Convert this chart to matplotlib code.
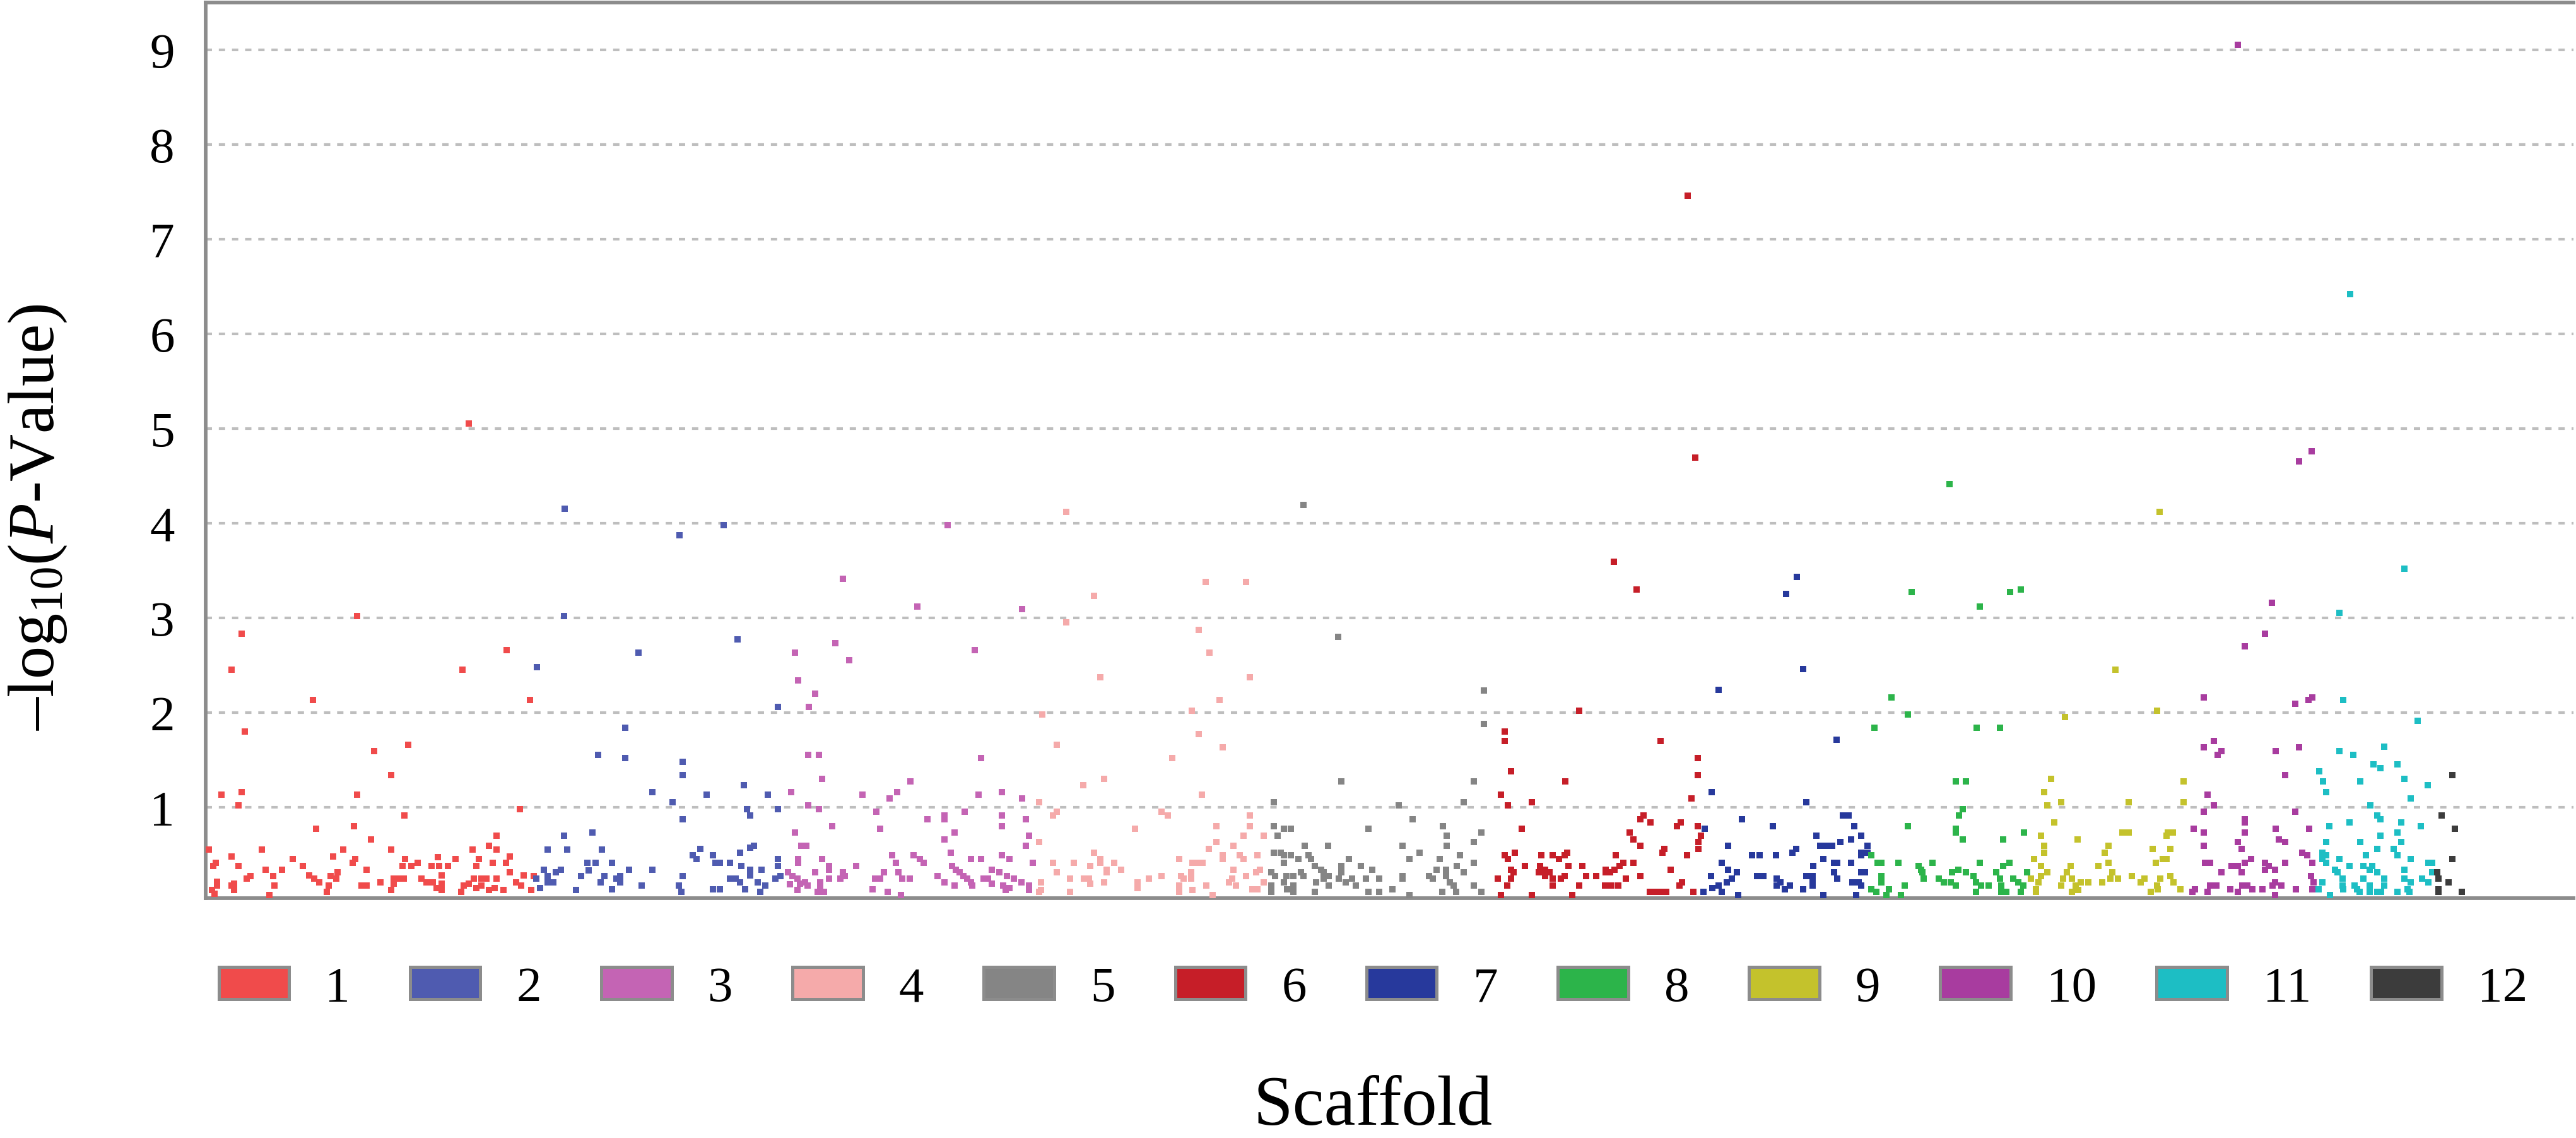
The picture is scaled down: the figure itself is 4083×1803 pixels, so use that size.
import numpy as np
import matplotlib
matplotlib.use("Agg")
import matplotlib.pyplot as plt
from matplotlib.patches import Patch

plt.rcParams['font.family'] = 'Liberation Serif'
plt.rcParams['mathtext.fontset'] = 'custom'
plt.rcParams['mathtext.rm'] = 'Liberation Serif'
plt.rcParams['mathtext.it'] = 'Liberation Serif:italic'

# position along the genome (plot units) and -log10(P) for each scaffold
scaffold_1 = [(6.48, 3.02), (1.55, 2.83), (1.10, 2.45), (10.99, 2.45), (12.87, 2.66), (4.60, 2.13), (13.89, 2.13),
              (1.69, 1.80), (7.21, 1.59), (8.66, 1.66), (7.93, 1.34), (0.67, 1.13), (1.55, 1.16), (1.40, 1.02),
              (6.48, 1.13), (13.44, 0.98), (8.52, 0.91), (4.73, 0.77), (6.34, 0.80), (7.07, 0.66), (12.44, 0.70),
              (0.14, 0.55), (2.40, 0.55), (5.90, 0.55), (7.93, 0.55), (11.42, 0.55), (12.12, 0.59), (12.44, 0.55),
              (1.10, 0.48), (5.47, 0.48), (13.02, 0.48), (11.26, 5.05),
              (0.43, 0.41), (0.32, 0.38), (1.40, 0.38), (1.92, 0.27), (1.76, 0.24), (1.23, 0.19), (1.12, 0.17),
              (1.23, 0.12), (0.48, 0.21), (0.48, 0.17), (0.27, 0.12), (0.37, 0.08), (2.56, 0.34), (2.88, 0.27),
              (2.94, 0.17), (2.72, 0.07), (3.28, 0.34), (3.74, 0.45), (4.16, 0.38), (4.43, 0.28), (4.64, 0.24),
              (4.86, 0.20), (5.34, 0.27), (5.66, 0.31), (5.60, 0.24), (5.28, 0.17), (5.18, 0.10), (6.41, 0.45),
              (6.30, 0.41), (6.89, 0.34), (6.67, 0.17), (6.89, 0.17), (7.47, 0.20), (8.06, 0.24), (8.27, 0.24),
              (8.49, 0.24), (8.06, 0.19), (7.95, 0.12), (8.43, 0.38), (8.54, 0.45), (8.81, 0.38), (9.07, 0.41),
              (9.23, 0.24), (9.45, 0.20), (9.71, 0.20), (9.93, 0.47), (9.98, 0.38), (9.66, 0.38), (10.36, 0.38),
              (10.09, 0.28), (10.09, 0.19), (10.09, 0.12), (9.88, 0.14), (10.70, 0.45), (11.05, 0.17), (10.94, 0.10),
              (11.26, 0.19), (11.48, 0.24), (11.58, 0.38), (11.69, 0.45), (11.58, 0.14), (11.80, 0.24), (11.80, 0.17),
              (12.01, 0.24), (12.12, 0.12), (12.28, 0.41), (12.44, 0.24), (12.38, 0.14), (12.76, 0.12), (12.86, 0.41),
              (13.02, 0.31), (13.29, 0.20), (13.51, 0.17), (13.61, 0.28), (13.93, 0.12), (14.04, 0.27)]

scaffold_2 = [(15.34, 3.02), (15.36, 4.15), (14.18, 2.48), (15.34, 0.70), (14.63, 0.55), (15.48, 0.55), (16.56, 0.73),
              (14.15, 0.24), (14.31, 0.14), (14.47, 0.34), (14.63, 0.27), (14.63, 0.20), (14.89, 0.20), (15.00, 0.31),
              (15.21, 0.34), (15.85, 0.12), (16.07, 0.27), (16.33, 0.41), (16.39, 0.33),
              (18.53, 2.63), (22.75, 2.77), (24.48, 2.06), (17.95, 1.84), (16.79, 1.55), (17.95, 1.52), (20.42, 1.48),
              (20.42, 1.34), (19.11, 1.16), (21.44, 1.13), (23.03, 1.23), (24.05, 1.13), (19.97, 1.05), (23.18, 0.98),
              (23.31, 0.91), (24.48, 0.98), (20.42, 0.87), (16.95, 0.55), (16.69, 0.41), (17.38, 0.41), (18.13, 0.34),
              (19.11, 0.34), (20.27, 3.87), (22.17, 3.98),
              (17.06, 0.27), (16.90, 0.20), (17.75, 0.27), (17.75, 0.20), (17.59, 0.24), (17.38, 0.13), (18.66, 0.17),
              (20.26, 0.17), (20.37, 0.10), (20.42, 0.27), (21.17, 0.56), (20.85, 0.49), (21.01, 0.45), (21.70, 0.49),
              (21.81, 0.41), (22.02, 0.41), (22.45, 0.41), (21.70, 0.13), (22.02, 0.13), (22.88, 0.52), (22.93, 0.38),
              (23.31, 0.57), (23.47, 0.59), (23.31, 0.34), (23.31, 0.28), (22.45, 0.24), (22.67, 0.24), (22.88, 0.20),
              (23.09, 0.13), (23.63, 0.20), (23.95, 0.17), (23.73, 0.10), (23.79, 0.34), (24.48, 0.45), (24.48, 0.38),
              (24.37, 0.24), (24.59, 0.27)]

scaffold_3 = [(27.26, 3.41), (30.46, 3.12), (26.96, 2.73), (25.23, 2.63), (27.55, 2.55), (32.91, 2.66), (25.36, 2.34),
              (26.08, 2.20), (25.81, 2.06), (25.78, 1.55), (26.24, 1.55), (26.38, 1.30), (33.18, 1.52), (30.16, 1.27),
              (25.07, 1.16), (28.11, 1.13), (29.58, 1.16), (29.28, 1.09), (33.07, 1.13), (25.78, 1.02), (26.24, 0.98),
              (28.70, 0.95), (32.49, 0.95), (30.89, 0.87), (31.61, 0.91), (31.61, 0.87), (26.81, 0.80), (28.86, 0.77),
              (25.23, 0.73), (32.06, 0.73), (31.61, 0.66), (25.49, 0.59), (25.71, 0.59), (31.90, 0.52), (31.76, 3.98),
              (25.36, 0.45), (25.36, 0.41), (26.38, 0.45), (26.67, 0.38), (26.67, 0.34), (26.08, 0.31), (27.84, 0.38),
              (29.39, 0.49), (29.55, 0.41), (30.30, 0.49), (30.57, 0.45), (30.73, 0.41), (32.75, 0.45), (33.18, 0.45),
              (31.95, 0.38), (32.11, 0.34), (32.27, 0.31), (32.43, 0.27), (32.59, 0.24), (32.75, 0.20), (32.81, 0.17),
              (31.31, 0.27), (31.63, 0.20), (32.06, 0.17), (29.66, 0.31), (29.82, 0.24), (30.14, 0.24), (29.02, 0.31),
              (28.86, 0.24), (28.64, 0.24), (28.54, 0.13), (29.18, 0.10), (29.76, 0.07), (27.26, 0.31), (27.15, 0.24),
              (27.36, 0.27), (26.67, 0.24), (26.29, 0.20), (26.29, 0.17), (26.19, 0.10), (26.46, 0.10), (25.12, 0.27),
              (25.33, 0.24), (25.44, 0.19), (25.65, 0.20), (25.01, 0.18), (25.33, 0.12), (25.76, 0.17), (24.91, 0.31),
              (33.29, 0.24),
              (34.95, 3.09), (34.07, 1.16), (34.95, 1.09), (34.07, 0.91), (34.07, 0.80), (35.11, 0.87), (35.24, 0.70),
              (35.11, 0.59), (35.40, 0.41), (34.07, 0.49), (34.39, 0.45), (33.64, 0.34), (33.96, 0.31), (34.28, 0.27),
              (34.60, 0.24), (34.92, 0.20), (35.24, 0.17), (34.12, 0.17), (34.39, 0.14), (33.48, 0.24), (33.64, 0.19),
              (35.24, 0.12), (34.23, 0.12)]

scaffold_4 = [(36.83, 4.12), (42.80, 3.38), (44.53, 3.38), (38.02, 3.23), (36.84, 2.95), (42.50, 2.87), (42.95, 2.63),
              (38.29, 2.37), (44.69, 2.37), (43.38, 2.13), (35.81, 1.98), (42.20, 2.02), (42.50, 1.77), (36.42, 1.66),
              (43.52, 1.63), (41.35, 1.52), (38.44, 1.30), (37.57, 1.23), (42.64, 1.13), (35.67, 1.05), (36.42, 0.95),
              (36.26, 0.91), (40.90, 0.95), (41.17, 0.91), (44.69, 0.91), (44.69, 0.80), (43.25, 0.80), (39.76, 0.77),
              (44.42, 0.70), (45.28, 0.70), (35.67, 0.63), (43.25, 0.63), (42.93, 0.56), (43.97, 0.59),
              (38.02, 0.52), (38.28, 0.45), (38.28, 0.41), (38.87, 0.41), (39.17, 0.34), (38.55, 0.34), (38.55, 0.31),
              (37.86, 0.38), (37.14, 0.41), (36.26, 0.41), (36.42, 0.31), (37.00, 0.24), (37.00, 0.10), (37.59, 0.24),
              (37.80, 0.24), (37.86, 0.19), (38.44, 0.20), (35.75, 0.20), (35.75, 0.12), (35.67, 0.10), (39.89, 0.20),
              (39.89, 0.14), (40.37, 0.24), (40.90, 0.27), (41.65, 0.45), (41.75, 0.27), (41.86, 0.24), (42.18, 0.24),
              (42.18, 0.31), (42.23, 0.41), (42.50, 0.41), (42.66, 0.41), (41.65, 0.17), (41.65, 0.10), (42.23, 0.12),
              (42.82, 0.17), (43.09, 0.07), (43.52, 0.49), (43.52, 0.45), (44.26, 0.49), (44.42, 0.45), (43.97, 0.34),
              (43.94, 0.24), (43.78, 0.20), (44.10, 0.17), (44.53, 0.27), (45.01, 0.49), (45.12, 0.34), (44.96, 0.31),
              (44.80, 0.13), (45.01, 0.13), (45.28, 0.20)]

scaffold_5 = [(46.98, 4.19), (48.46, 2.80), (48.61, 1.27), (45.70, 1.05), (45.70, 0.80), (46.13, 0.77), (46.45, 0.77),
              (45.86, 0.70), (47.04, 0.59), (48.03, 0.59), (49.76, 0.77),
              (45.70, 0.52), (46.02, 0.52), (46.13, 0.49), (46.45, 0.49), (46.77, 0.45), (46.13, 0.41), (47.20, 0.49),
              (47.31, 0.45), (47.47, 0.38), (47.73, 0.34), (47.84, 0.31), (48.05, 0.27), (47.84, 0.24), (47.52, 0.20),
              (48.05, 0.17), (47.47, 0.10), (45.60, 0.31), (45.76, 0.27), (46.24, 0.27), (46.56, 0.27), (46.88, 0.31),
              (46.99, 0.27), (45.60, 0.17), (45.60, 0.10), (46.13, 0.20), (46.29, 0.13), (46.56, 0.17), (46.56, 0.10),
              (48.91, 0.45), (48.59, 0.38), (48.59, 0.31), (48.48, 0.24), (48.80, 0.20), (49.07, 0.24), (49.23, 0.17),
              (49.44, 0.38), (49.65, 0.24), (49.92, 0.34), (49.76, 0.10),
              (54.69, 2.23), (54.69, 1.88), (54.28, 1.27), (51.06, 1.02), (53.84, 1.05), (51.65, 0.87), (52.95, 0.80),
              (53.11, 0.70), (53.11, 0.59), (54.58, 0.73), (54.28, 0.63), (51.22, 0.59), (51.95, 0.52), (51.51, 0.45),
              (52.80, 0.45), (53.68, 0.49), (53.55, 0.38), (53.84, 0.31), (54.28, 0.41), (52.67, 0.34), (52.35, 0.27),
              (52.51, 0.24), (53.09, 0.34), (53.09, 0.27), (53.25, 0.20), (53.41, 0.17), (53.52, 0.10), (52.93, 0.10),
              (51.22, 0.27), (51.22, 0.24), (50.21, 0.24), (50.21, 0.10), (50.78, 0.13), (51.51, 0.07), (54.28, 0.17),
              (54.58, 0.10)]

scaffold_6 = [(63.43, 7.46), (63.73, 4.69), (60.25, 3.59), (61.24, 3.30), (58.78, 2.02), (55.58, 1.80), (55.58, 1.70),
              (62.25, 1.70), (55.87, 1.38), (58.18, 1.27), (63.85, 1.52), (63.85, 1.34), (55.44, 1.13), (55.73, 1.02),
              (56.74, 1.05), (63.58, 1.09), (61.53, 0.91), (61.39, 0.87), (61.83, 0.84), (63.13, 0.84), (62.97, 0.80),
              (63.85, 0.80), (63.98, 0.70), (56.32, 0.77), (60.94, 0.73), (61.10, 0.66), (61.39, 0.59), (63.87, 0.63),
              (63.87, 0.56), (62.43, 0.56), (62.33, 0.52), (63.40, 0.49),
              (55.58, 0.49), (55.73, 0.45), (56.03, 0.52), (56.46, 0.38), (55.87, 0.34), (55.98, 0.31), (55.87, 0.24),
              (55.71, 0.17), (55.28, 0.24), (55.44, 0.07), (57.15, 0.49), (57.10, 0.38), (57.04, 0.31), (57.31, 0.34),
              (57.31, 0.27), (57.52, 0.31), (57.63, 0.24), (57.63, 0.49), (57.90, 0.45), (58.27, 0.52), (58.16, 0.49),
              (58.32, 0.38), (58.16, 0.27), (58.00, 0.24), (57.63, 0.17), (58.78, 0.17), (58.91, 0.38), (59.07, 0.27),
              (59.50, 0.27), (58.48, 0.07), (56.74, 0.07), (59.92, 0.34), (59.92, 0.31), (60.09, 0.31), (60.35, 0.49),
              (60.30, 0.34), (60.51, 0.38), (60.67, 0.41), (61.10, 0.41), (59.87, 0.17), (60.14, 0.17), (60.46, 0.17),
              (60.78, 0.24), (61.39, 0.27), (62.70, 0.34), (61.79, 0.10), (62.06, 0.10), (62.27, 0.10), (62.49, 0.10),
              (63.18, 0.20), (63.07, 0.17), (63.66, 0.10)]

scaffold_7 = [(68.08, 3.43), (67.64, 3.25), (68.37, 2.46), (64.73, 2.24), (69.80, 1.71), (64.44, 1.16), (65.74, 0.87),
              (64.14, 0.77), (65.16, 0.59), (66.17, 0.49), (66.49, 0.49),
              (64.89, 0.41), (65.16, 0.34), (65.53, 0.31), (65.32, 0.24), (65.10, 0.20), (64.41, 0.27), (64.73, 0.17),
              (64.46, 0.14), (64.89, 0.10), (64.09, 0.10), (65.58, 0.07), (66.38, 0.27), (66.65, 0.27),
              (68.50, 1.05), (70.05, 0.91), (70.31, 0.91), (67.06, 0.80), (70.55, 0.80), (68.93, 0.70), (70.85, 0.70),
              (70.42, 0.66), (69.96, 0.63), (69.09, 0.59), (69.35, 0.59), (69.59, 0.59), (68.07, 0.56), (67.91, 0.52),
              (71.11, 0.59), (71.11, 0.52), (70.85, 0.52), (70.85, 0.49), (67.20, 0.49), (69.22, 0.45), (69.67, 0.41),
              (69.83, 0.41), (70.40, 0.41), (68.80, 0.38),
              (70.85, 0.31), (71.01, 0.31), (69.67, 0.31), (69.83, 0.24), (68.50, 0.27), (68.77, 0.27), (68.77, 0.20),
              (68.77, 0.17), (68.37, 0.13), (67.22, 0.24), (67.22, 0.17), (67.38, 0.20), (67.59, 0.13), (67.80, 0.17),
              (70.47, 0.20), (70.74, 0.20), (70.85, 0.17), (69.22, 0.07), (70.63, 0.07)]

scaffold_8 = [(74.61, 4.41), (73.01, 3.27), (75.92, 3.12), (77.22, 3.27), (77.66, 3.30), (72.15, 2.16), (72.85, 1.98),
              (71.40, 1.84), (75.78, 1.84), (76.79, 1.84), (74.90, 1.27), (75.33, 1.27), (75.19, 0.98), (75.04, 0.91),
              (72.85, 0.80), (74.90, 0.77), (74.90, 0.73), (75.19, 0.66), (77.81, 0.73), (76.93, 0.66), (71.27, 0.49),
              (71.54, 0.41), (71.72, 0.41), (72.43, 0.41), (73.89, 0.41), (75.92, 0.41), (77.20, 0.41),
              (71.70, 0.27), (71.70, 0.20), (71.27, 0.13), (71.49, 0.10), (72.02, 0.13), (71.91, 0.07), (72.55, 0.07),
              (72.71, 0.17), (73.30, 0.38), (73.41, 0.34), (73.46, 0.31), (73.52, 0.24), (74.16, 0.24), (74.37, 0.20),
              (74.69, 0.20), (74.90, 0.17), (74.74, 0.31), (75.01, 0.34), (75.33, 0.31), (75.65, 0.27), (75.76, 0.20),
              (75.97, 0.17), (76.29, 0.17), (75.76, 0.10), (76.61, 0.31), (76.77, 0.24), (76.93, 0.38), (76.83, 0.17),
              (77.04, 0.10), (77.36, 0.24), (77.57, 0.20), (77.79, 0.17), (77.95, 0.31), (77.68, 0.10), (76.83, 0.10)]

scaffold_9 = [(83.61, 4.12), (81.71, 2.45), (79.55, 1.95), (83.50, 2.02), (78.96, 1.30), (78.67, 1.16), (78.80, 1.02),
              (79.39, 1.05), (82.30, 1.05), (79.10, 0.84), (82.03, 0.73), (82.29, 0.73), (78.53, 0.70), (80.11, 0.66),
              (78.67, 0.59), (78.67, 0.52), (81.42, 0.59), (81.26, 0.52), (83.32, 0.56),
              (78.23, 0.45), (78.53, 0.38), (78.80, 0.31), (78.53, 0.27), (78.43, 0.20), (78.32, 0.13), (78.32, 0.10),
              (78.11, 0.24), (79.81, 0.38), (79.65, 0.31), (79.49, 0.24), (79.39, 0.17), (79.87, 0.24), (80.03, 0.17),
              (79.87, 0.10), (80.24, 0.20), (80.56, 0.20), (80.13, 0.12), (80.99, 0.38), (81.58, 0.31), (81.52, 0.24),
              (81.84, 0.24), (81.15, 0.20), (81.42, 0.41), (82.43, 0.27), (82.96, 0.24), (82.80, 0.20), (83.44, 0.41),
              (83.23, 0.10), (83.50, 0.17),
              (84.63, 1.27), (84.63, 1.05), (83.96, 0.73), (84.17, 0.73), (83.90, 0.70), (84.06, 0.56), (83.74, 0.45),
              (83.90, 0.45), (83.64, 0.24), (84.06, 0.27), (84.22, 0.20), (84.49, 0.13), (83.53, 0.13)]

scaffold_10 = [(86.95, 9.05), (90.13, 4.76), (89.57, 4.65), (88.42, 3.16), (88.12, 2.83), (87.25, 2.70), (85.51, 2.16),
               (89.43, 2.09), (89.99, 2.13), (90.15, 2.16), (85.94, 1.70), (85.51, 1.63), (86.09, 1.55), (86.25, 1.59),
               (88.57, 1.59), (89.57, 1.63), (88.99, 1.34), (85.66, 1.13), (85.94, 1.02), (85.51, 0.95), (89.43, 0.95),
               (87.25, 0.87), (87.25, 0.84), (85.08, 0.77), (85.51, 0.73), (87.25, 0.73), (88.57, 0.77), (90.01, 0.77),
               (88.71, 0.66), (88.99, 0.63), (85.51, 0.59), (86.95, 0.63), (87.11, 0.56), (89.72, 0.52), (89.94, 0.49),
               (90.15, 0.41),
               (85.56, 0.41), (85.77, 0.41), (86.68, 0.38), (86.95, 0.38), (87.27, 0.41), (87.53, 0.45), (87.11, 0.31),
               (86.25, 0.31), (88.12, 0.41), (88.12, 0.34), (88.28, 0.38), (88.55, 0.34), (88.99, 0.41), (88.44, 0.17),
               (88.55, 0.20), (88.81, 0.17), (88.55, 0.07), (88.01, 0.13), (87.59, 0.13), (87.37, 0.17), (87.16, 0.17),
               (86.95, 0.10), (86.63, 0.13), (86.04, 0.17), (85.77, 0.17), (85.67, 0.10), (85.13, 0.13), (85.02, 0.10),
               (89.45, 0.13), (90.10, 0.27), (90.20, 0.20), (90.15, 0.13)]

scaffold_11 = [(91.77, 6.42), (94.08, 3.52), (91.32, 3.05), (91.46, 2.13), (94.65, 1.91), (93.21, 1.64), (91.32, 1.59),
               (91.91, 1.55), (92.76, 1.45), (93.06, 1.41), (93.78, 1.45), (90.45, 1.38), (94.08, 1.30), (90.60, 1.27),
               (92.20, 1.27), (90.74, 1.16), (95.09, 1.23), (94.37, 1.09), (92.63, 1.02), (92.92, 0.91), (93.06, 0.87),
               (90.87, 0.80), (91.75, 0.84), (93.94, 0.84), (94.79, 0.80), (93.78, 0.73), (93.06, 0.70), (93.94, 0.63),
               (90.74, 0.63), (92.20, 0.63), (92.92, 0.56), (93.62, 0.56), (93.78, 0.49),
               (90.58, 0.52), (90.74, 0.49), (90.58, 0.45), (90.74, 0.41), (91.32, 0.45), (91.75, 0.38), (91.11, 0.34),
               (91.22, 0.31), (92.44, 0.49), (92.34, 0.38), (92.71, 0.38), (92.60, 0.34), (92.92, 0.31), (94.08, 0.34),
               (94.37, 0.45), (95.11, 0.41), (95.27, 0.41), (95.27, 0.31), (91.43, 0.24), (91.43, 0.17), (91.48, 0.13),
               (90.90, 0.07), (90.58, 0.20), (90.42, 0.13), (91.96, 0.17), (92.07, 0.13), (92.18, 0.10), (92.34, 0.24),
               (92.60, 0.17), (92.60, 0.10), (92.92, 0.10), (93.21, 0.24), (93.21, 0.17), (93.08, 0.10), (93.78, 0.10),
               (94.10, 0.24), (94.37, 0.20), (94.21, 0.13), (94.85, 0.24), (95.11, 0.20), (94.31, 0.10)]

scaffold_12 = [(96.13, 1.34), (95.67, 0.91), (96.26, 0.77), (96.13, 0.45), (95.49, 0.31), (95.54, 0.24), (95.97, 0.20),
               (95.54, 0.13), (95.54, 0.10), (96.55, 0.10)]

scaffolds = [scaffold_1, scaffold_2, scaffold_3, scaffold_4, scaffold_5, scaffold_6,
             scaffold_7, scaffold_8, scaffold_9, scaffold_10, scaffold_11, scaffold_12]
labels = ['1', '2', '3', '4', '5', '6', '7', '8', '9', '10', '11', '12']
colors = ['#F04B4B', '#4F5BB0', '#C464B4', '#F5AAAA', '#858585', '#C61E28',
          '#27399C', '#2CB44A', '#C4C22C', '#A83C9F', '#1DBEC4', '#3C3C3C']

fig = plt.figure(figsize=(13.61, 6.013), dpi=300)
ax = fig.add_axes([0.0798, 0.2106, 0.9192, 0.7866])

for pts, c in zip(scaffolds, colors):
    arr = np.array(pts)
    ax.scatter(arr[:, 0], arr[:, 1], s=6.8, marker='s', color=c, linewidths=0, zorder=3)

ax.set_xlim(0, 101.32)
ax.set_ylim(0.036, 9.496)
ax.set_yticks(range(1, 10))
ax.set_xticks([])
ax.tick_params(axis='y', length=0, pad=11.8, labelsize=19)
ax.set_axisbelow(True)
ax.yaxis.grid(True, linestyle=(0, (2.4, 2.6)), linewidth=1.0, color='#BEBEBE')

for side in ['left', 'top', 'bottom']:
    ax.spines[side].set_color('#8C8C8C')
    ax.spines[side].set_linewidth(1.4)
ax.spines['right'].set_visible(False)

handles = [Patch(facecolor=c, edgecolor='#8C8C8C', linewidth=1.2) for c in colors]
fig.legend(handles, labels, loc='center', bbox_to_anchor=(0.533, 0.131), ncol=12, frameon=False,
           fontsize=19, handlelength=1.41, handleheight=0.61, handletextpad=0.72, columnspacing=1.2)

fig.text(0.0147, 0.546, '–log$_{10}$($P$-Value)', rotation=90, ha='center', va='center', fontsize=25)
fig.text(0.533, 0.012, 'Scaffold', ha='center', va='baseline', fontsize=27)

fig.savefig('out.png', dpi=300)
